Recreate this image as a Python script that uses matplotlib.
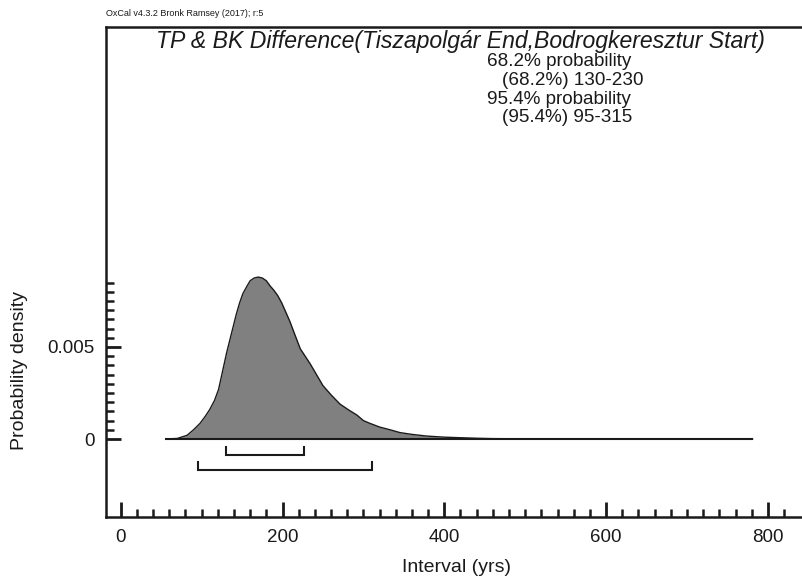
import matplotlib
matplotlib.use("Agg")
import matplotlib.pyplot as plt
import numpy as np

plt.rcParams['font.family'] = ['Liberation Sans', 'DejaVu Sans']

# ---- data ----
years = [56, 70, 82, 90, 98, 104, 110, 116, 121, 126, 131, 135, 139, 143, 147,
         151, 156, 160, 165, 170, 175, 180, 185, 189, 194, 199, 204, 209, 215,
         222, 228, 234, 242, 250, 260, 271, 281, 292, 300, 308, 320, 333, 345,
         360, 378, 400, 419, 440, 460, 500, 600, 781]
density = [0, 0.00003, 0.0002, 0.0005, 0.00085, 0.0012, 0.0016, 0.0021, 0.0027,
           0.0037, 0.0047, 0.0054, 0.0061, 0.0068, 0.0074, 0.0079, 0.0083,
           0.0086, 0.00875, 0.0088, 0.00875, 0.0086, 0.0083, 0.0081, 0.0078,
           0.0074, 0.0069, 0.0064, 0.0057, 0.0049, 0.0045, 0.0041, 0.0035,
           0.0029, 0.0024, 0.0019, 0.0016, 0.0013, 0.0010, 0.00085, 0.00065,
           0.0005, 0.00035, 0.00025, 0.00016, 0.0001, 0.00007, 0.00004,
           0.00002, 0.00001, 0, 0]
range68 = (130, 227)
range95 = (96, 311)
title = "TP & BK Difference(Tiszapolgár End,Bodrogkeresztur Start)"
header = "OxCal v4.3.2 Bronk Ramsey (2017); r:5"
prob_lines = ["68.2% probability", "(68.2%) 130-230", "95.4% probability", "(95.4%) 95-315"]
xticks_major = [0, 200, 400, 600, 800]
yticks_major = [0, 0.005]
ytick_labels = ["0", "0.005"]

W, H = 802, 580
fig = plt.figure(figsize=(W / 100, H / 100), dpi=100)
ax = fig.add_axes([106 / W, (H - 517) / H, 1 - 106 / W, (517 - 27) / H])

ax.set_xlim(-18.2, 842.2)
ax.set_ylim(-0.004239, 0.022391)

ax.fill_between(years, density, 0, color='#808080', lw=0, zorder=2)
ax.plot(years, density, color='#1a1a1a', lw=1.0, zorder=3)
ax.plot([years[0], years[-1]], [0, 0], color='#1a1a1a', lw=1.5, zorder=3)

# range brackets
def bracket(r, yh, yc):
    ax.plot([r[0], r[0], r[1], r[1]], [yc, yh, yh, yc], color='#1a1a1a', lw=1.5,
            solid_joinstyle='miter', zorder=3)

bracket(range68, -0.00087, -0.000435)
bracket(range95, -0.00168, -0.00125)

for s in ['left', 'bottom', 'top']:
    ax.spines[s].set_linewidth(1.8)
    ax.spines[s].set_color('#1a1a1a')
ax.spines['right'].set_visible(False)

ax.set_xticks(xticks_major)
ax.set_xticks(np.arange(20, 821, 20), minor=True)
ax.set_yticks(yticks_major)
ax.set_yticklabels(ytick_labels)
ax.set_yticks(np.arange(0.0005, 0.0086, 0.0005), minor=True)
ax.tick_params(axis='both', which='major', direction='in', length=11, width=2.0,
               color='#1a1a1a', labelsize=13.5, labelcolor='#1a1a1a')
ax.tick_params(axis='both', which='minor', direction='in', length=6, width=1.8,
               color='#1a1a1a')
ax.tick_params(axis='x', which='major', pad=9)
ax.tick_params(axis='y', which='major', pad=8)

fig.text(456 / W, 1 - 567 / H, "Interval (yrs)", ha='center', va='center',
         fontsize=14, color='#1a1a1a')
fig.text(20 / W, 1 - 371 / H, "Probability density", ha='center', va='center',
         rotation=90, fontsize=14, color='#1a1a1a')
fig.text(106 / W, 1 - 14 / H, header, ha='left', va='center', fontsize=6.5,
         color='#1a1a1a')
fig.text(460 / W, 1 - 41.5 / H, title, ha='center', va='center', fontsize=16.6,
         style='italic', color='#1a1a1a')
ys = [61, 80, 99, 118]
xs = [487, 502, 487, 502]
for t, x, y in zip(prob_lines, xs, ys):
    fig.text(x / W, 1 - y / H, t, ha='left', va='center', fontsize=13.6,
             color='#1a1a1a')

fig.savefig("out.png", dpi=100)
